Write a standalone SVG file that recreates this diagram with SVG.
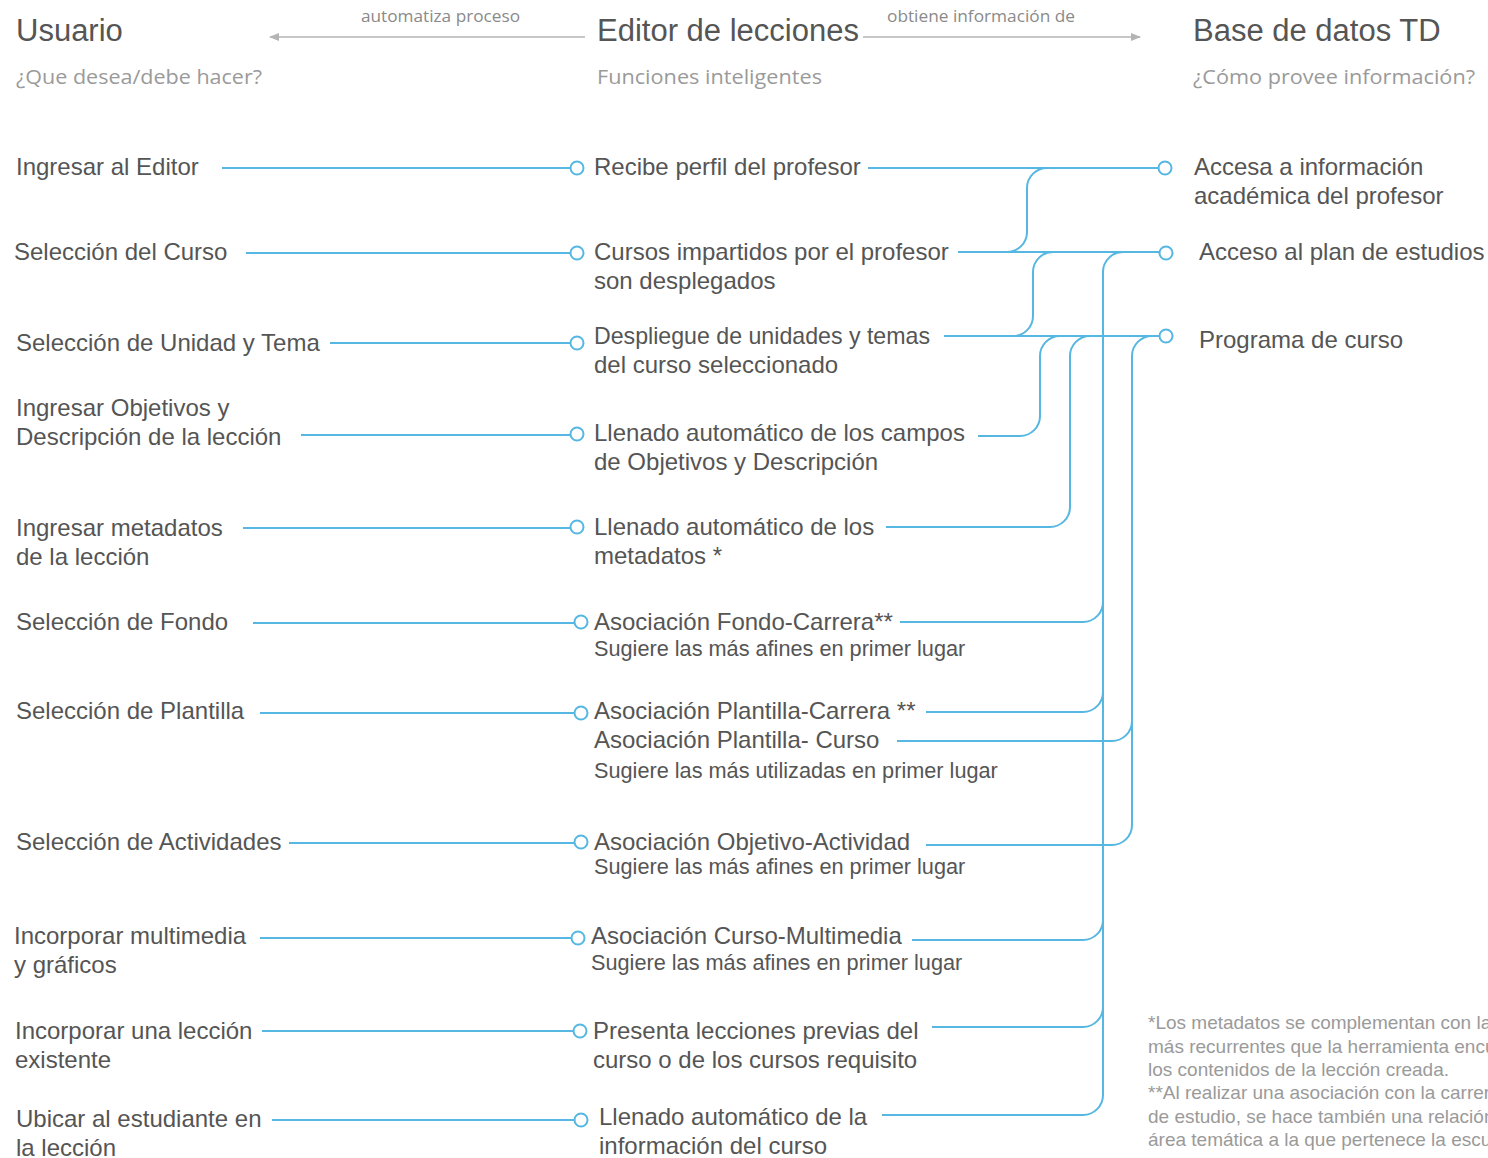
<svg xmlns="http://www.w3.org/2000/svg" width="1488" height="1158" viewBox="0 0 1488 1158">
  <style>
    .title { font-family: "Liberation Sans", Arial, sans-serif; font-size: 31px; fill: #555; }
    .sub { font-family: "Open Sans", "Liberation Sans", sans-serif; font-size: 20px; fill: #9a9a9a; }
    .flow { font-family: "Open Sans", "Liberation Sans", sans-serif; font-size: 16px; fill: #8a8a8a; }
    .t { font-family: "Liberation Sans", Arial, sans-serif; font-size: 24px; fill: #555; }
    .s { font-family: "Liberation Sans", Arial, sans-serif; font-size: 21.7px; fill: #555; }
    .note { font-family: "Liberation Sans", Arial, sans-serif; font-size: 19px; fill: #9a9a9a; }
    .ln { fill: none; stroke: #55b7e2; stroke-width: 2; }
    .dot { fill: #fff; stroke: #55b7e2; stroke-width: 2; }
    .hdr { stroke: #b4b4b4; stroke-width: 1.3; fill: none; }
  </style>
  <defs>
    <marker id="tip" viewBox="0 0 10 10" refX="9" refY="5" markerWidth="10" markerHeight="10" markerUnits="userSpaceOnUse" orient="auto">
      <path d="M0,1 L10,5 L0,9 Z" fill="#b4b4b4"/>
    </marker>
  </defs>
  <rect width="1488" height="1158" fill="#fff"/>

  <!-- column headers -->
  <g id="header-usuario">
    <text class="title" x="16" y="41">Usuario</text>
    <text class="sub" x="16" y="84" textLength="246" lengthAdjust="spacingAndGlyphs">¿Que desea/debe hacer?</text>
  </g>
  <g id="header-editor">
    <text class="title" x="597" y="41">Editor de lecciones</text>
    <text class="sub" x="597" y="84" textLength="225" lengthAdjust="spacingAndGlyphs">Funciones inteligentes</text>
  </g>
  <g id="header-base">
    <text class="title" x="1193" y="41">Base de datos TD</text>
    <text class="sub" x="1193" y="84" textLength="282" lengthAdjust="spacingAndGlyphs">¿Cómo provee información?</text>
  </g>
  <g id="header-flows">
    <line class="hdr" x1="585" y1="37" x2="270" y2="37" marker-end="url(#tip)"/>
    <text class="flow" x="361" y="22" textLength="159" lengthAdjust="spacingAndGlyphs">automatiza proceso</text>
    <line class="hdr" x1="863" y1="37" x2="1140" y2="37" marker-end="url(#tip)"/>
    <text class="flow" x="887" y="22" textLength="188" lengthAdjust="spacingAndGlyphs">obtiene información de</text>
  </g>

  <!-- connectors -->
  <g id="connectors">
    <!-- user action to editor function -->
    <path class="ln" d="M222,168 H570"/>
    <path class="ln" d="M246,253 H570"/>
    <path class="ln" d="M330,343 H570"/>
    <path class="ln" d="M301,435 H570"/>
    <path class="ln" d="M243,528 H570"/>
    <path class="ln" d="M253,623 H574"/>
    <path class="ln" d="M260,713 H574"/>
    <path class="ln" d="M289,843 H574"/>
    <path class="ln" d="M260,938 H571"/>
    <path class="ln" d="M262,1031 H573"/>
    <path class="ln" d="M272,1120 H574"/>

    <!-- editor function to database -->
    <path class="ln" d="M868,168 H1158"/>
    <path class="ln" d="M958,252 H1159"/>
    <path class="ln" d="M944,336 H1159"/>
    <path class="ln" d="M1007,252 a20,20 0 0 0 20,-20 V188 a20,20 0 0 1 20,-20"/>
    <path class="ln" d="M1013,336 a20,20 0 0 0 20,-20 V272 a20,20 0 0 1 20,-20"/>
    <path class="ln" d="M978,436 H1020 a20,20 0 0 0 20,-20 V356 a20,20 0 0 1 20,-20"/>
    <path class="ln" d="M886,527 H1050 a20,20 0 0 0 20,-20 V356 a20,20 0 0 1 20,-20"/>

    <!-- trunk to plan de estudios -->
    <path class="ln" d="M1123,252 a20,20 0 0 0 -20,20 V1095 a20,20 0 0 1 -20,20 H882"/>
    <path class="ln" d="M900,622 H1083 a20,20 0 0 0 20,-20"/>
    <path class="ln" d="M926,712 H1083 a20,20 0 0 0 20,-20"/>
    <path class="ln" d="M912,940 H1083 a20,20 0 0 0 20,-20"/>
    <path class="ln" d="M932,1027 H1083 a20,20 0 0 0 20,-20"/>

    <!-- trunk to programa de curso -->
    <path class="ln" d="M1152,336 a20,20 0 0 0 -20,20 V825 a20,20 0 0 1 -20,20 H926"/>
    <path class="ln" d="M897,741 H1112 a20,20 0 0 0 20,-20"/>
  </g>

  <!-- user actions -->
  <g id="u1"><text class="t" x="16" y="175">Ingresar al Editor</text></g>
  <g id="u2"><text class="t" x="14" y="260">Selección del Curso</text></g>
  <g id="u3"><text class="t" x="16" y="351">Selección de Unidad y Tema</text></g>
  <g id="u4"><text class="t" x="16" y="416">Ingresar Objetivos y</text><text class="t" x="16" y="445">Descripción de la lección</text></g>
  <g id="u5"><text class="t" x="16" y="536">Ingresar metadatos</text><text class="t" x="16" y="565">de la lección</text></g>
  <g id="u6"><text class="t" x="16" y="630">Selección de Fondo</text></g>
  <g id="u7"><text class="t" x="16" y="719">Selección de Plantilla</text></g>
  <g id="u8"><text class="t" x="16" y="850">Selección de Actividades</text></g>
  <g id="u9"><text class="t" x="14" y="944">Incorporar multimedia</text><text class="t" x="14" y="973">y gráficos</text></g>
  <g id="u10"><text class="t" x="15" y="1039">Incorporar una lección</text><text class="t" x="15" y="1068">existente</text></g>
  <g id="u11"><text class="t" x="16" y="1127">Ubicar al estudiante en</text><text class="t" x="16" y="1156">la lección</text></g>

  <!-- editor functions -->
  <g id="e1"><circle class="dot" cx="577" cy="168" r="6.5"/><text class="t" x="594" y="175">Recibe perfil del profesor</text></g>
  <g id="e2"><circle class="dot" cx="577" cy="253" r="6.5"/><text class="t" x="594" y="260">Cursos impartidos por el profesor</text><text class="t" x="594" y="289">son desplegados</text></g>
  <g id="e3"><circle class="dot" cx="577" cy="343" r="6.5"/><text class="t" x="594" y="344" textLength="336" lengthAdjust="spacingAndGlyphs">Despliegue de unidades y temas</text><text class="t" x="594" y="373">del curso seleccionado</text></g>
  <g id="e4"><circle class="dot" cx="577" cy="434" r="6.5"/><text class="t" x="594" y="441">Llenado automático de los campos</text><text class="t" x="594" y="470">de Objetivos y Descripción</text></g>
  <g id="e5"><circle class="dot" cx="577" cy="527" r="6.5"/><text class="t" x="594" y="535">Llenado automático de los</text><text class="t" x="594" y="564">metadatos *</text></g>
  <g id="e6"><circle class="dot" cx="581" cy="622" r="6.5"/><text class="t" x="594" y="630">Asociación Fondo-Carrera**</text><text class="s" x="594" y="656">Sugiere las más afines en primer lugar</text></g>
  <g id="e7"><circle class="dot" cx="581" cy="713" r="6.5"/><text class="t" x="594" y="719">Asociación Plantilla-Carrera **</text><text class="t" x="594" y="748">Asociación Plantilla- Curso</text><text class="s" x="594" y="778">Sugiere las más utilizadas en primer lugar</text></g>
  <g id="e8"><circle class="dot" cx="581" cy="842" r="6.5"/><text class="t" x="594" y="850">Asociación Objetivo-Actividad</text><text class="s" x="594" y="874">Sugiere las más afines en primer lugar</text></g>
  <g id="e9"><circle class="dot" cx="578" cy="938" r="6.5"/><text class="t" x="591" y="944">Asociación Curso-Multimedia</text><text class="s" x="591" y="970">Sugiere las más afines en primer lugar</text></g>
  <g id="e10"><circle class="dot" cx="580" cy="1031" r="6.5"/><text class="t" x="593" y="1039">Presenta lecciones previas del</text><text class="t" x="593" y="1068">curso o de los cursos requisito</text></g>
  <g id="e11"><circle class="dot" cx="581" cy="1120" r="6.5"/><text class="t" x="599" y="1125">Llenado automático de la</text><text class="t" x="599" y="1154">información del curso</text></g>

  <!-- database sources -->
  <g id="d1"><circle class="dot" cx="1165" cy="168" r="6.5"/><text class="t" x="1194" y="175">Accesa a información</text><text class="t" x="1194" y="204">académica del profesor</text></g>
  <g id="d2"><circle class="dot" cx="1166" cy="253" r="6.5"/><text class="t" x="1199" y="260">Acceso al plan de estudios</text></g>
  <g id="d3"><circle class="dot" cx="1166" cy="336" r="6.5"/><text class="t" x="1199" y="348">Programa de curso</text></g>

  <!-- footnotes -->
  <g id="notes">
    <text class="note" x="1148" y="1029">*Los metadatos se complementan con la</text>
    <text class="note" x="1148" y="1053">más recurrentes que la herramienta encuentra</text>
    <text class="note" x="1148" y="1076">los contenidos de la lección creada.</text>
    <text class="note" x="1148" y="1099">**Al realizar una asociación con la carrera</text>
    <text class="note" x="1148" y="1123">de estudio, se hace también una relación</text>
    <text class="note" x="1148" y="1146">área temática a la que pertenece la escuela</text>
  </g>
</svg>
